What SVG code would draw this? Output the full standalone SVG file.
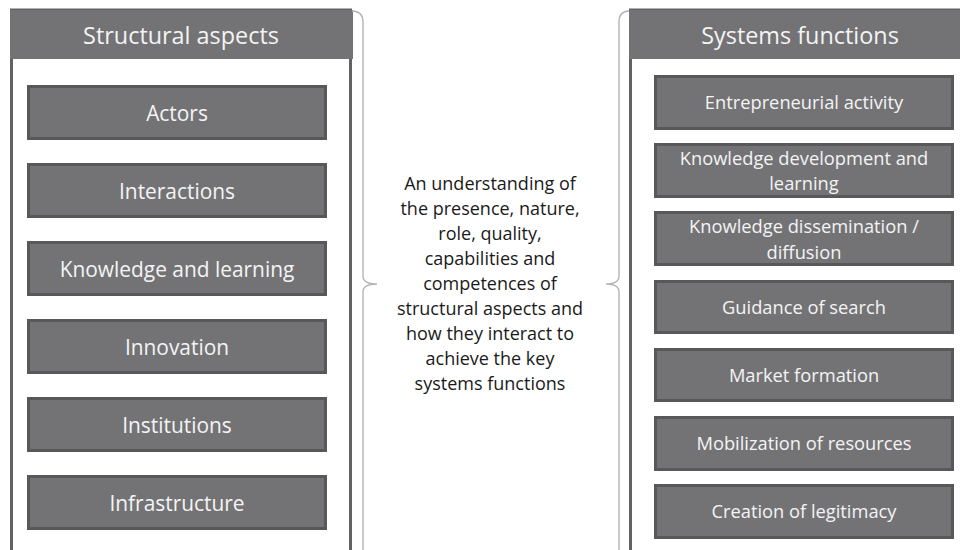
<svg xmlns="http://www.w3.org/2000/svg" width="960" height="550" viewBox="0 0 960 550">
  <style>
    .frame { fill: #ffffff; stroke: #626265; stroke-width: 3; }
    .head { fill: #737376; }
    .box { fill: #737376; stroke: #58585b; stroke-width: 3; }
    .htxt { font-family: "Open Sans", "Noto Sans", sans-serif; font-size: 23.4px; fill: #f4f4f4; text-anchor: middle; }
    .ltxt { font-family: "Open Sans", "Noto Sans", sans-serif; font-size: 20.9px; fill: #f4f4f4; text-anchor: middle; }
    .rtxt { font-family: "Open Sans", "Noto Sans", sans-serif; font-size: 18.3px; fill: #f4f4f4; text-anchor: middle; }
    .mtxt { font-family: "Open Sans", "Noto Sans", sans-serif; font-size: 18px; fill: #1a1a1a; text-anchor: middle; }
    .brace { fill: none; stroke: #b4b4b4; stroke-width: 1.4; }
  </style>

  <rect width="960" height="550" fill="#ffffff"/>

  <!-- left panel -->
  <g id="structural-aspects">
    <rect class="frame" x="11.5" y="10" width="339" height="560"/>
    <rect class="head" x="10" y="10" width="343" height="49"/>
    <text class="htxt" x="181" y="43.5">Structural aspects</text>
  </g>
  <g id="actors"><rect class="box" x="28.5" y="86.5" width="297" height="52"/><text class="ltxt" x="177" y="120.5">Actors</text></g>
  <g id="interactions"><rect class="box" x="28.5" y="164.5" width="297" height="52"/><text class="ltxt" x="177" y="198.5">Interactions</text></g>
  <g id="knowledge-learning"><rect class="box" x="28.5" y="242.5" width="297" height="52"/><text class="ltxt" x="177" y="276.5">Knowledge and learning</text></g>
  <g id="innovation"><rect class="box" x="28.5" y="320.5" width="297" height="52"/><text class="ltxt" x="177" y="354.5">Innovation</text></g>
  <g id="institutions"><rect class="box" x="28.5" y="398.5" width="297" height="52"/><text class="ltxt" x="177" y="432.5">Institutions</text></g>
  <g id="infrastructure"><rect class="box" x="28.5" y="476.5" width="297" height="52"/><text class="ltxt" x="177" y="510.5">Infrastructure</text></g>

  <!-- right panel -->
  <g id="systems-functions">
    <rect class="frame" x="630.5" y="10" width="400" height="560"/>
    <rect class="head" x="629" y="10" width="340" height="49"/>
    <text class="htxt" x="800" y="43.5">Systems functions</text>
  </g>
  <g id="entrepreneurial"><rect class="box" x="655.5" y="76.5" width="297" height="52"/><text class="rtxt" x="804" y="108.5">Entrepreneurial activity</text></g>
  <g id="knowledge-development"><rect class="box" x="655.5" y="144.5" width="297" height="52"/><text class="rtxt" x="804" y="164.5">Knowledge development and</text><text class="rtxt" x="804" y="190">learning</text></g>
  <g id="knowledge-dissemination"><rect class="box" x="655.5" y="212.5" width="297" height="52"/><text class="rtxt" x="804" y="233">Knowledge dissemination /</text><text class="rtxt" x="804" y="258.5">diffusion</text></g>
  <g id="guidance"><rect class="box" x="655.5" y="281.5" width="297" height="51"/><text class="rtxt" x="804" y="313.5">Guidance of search</text></g>
  <g id="market"><rect class="box" x="655.5" y="349.5" width="297" height="51"/><text class="rtxt" x="804" y="381.5">Market formation</text></g>
  <g id="mobilization"><rect class="box" x="655.5" y="417.5" width="297" height="52"/><text class="rtxt" x="804" y="449.5">Mobilization of resources</text></g>
  <g id="legitimacy"><rect class="box" x="655.5" y="485.5" width="297" height="52"/><text class="rtxt" x="804" y="517.5">Creation of legitimacy</text></g>

  <!-- braces joining both panels to the centre text -->
  <g id="connectors">
    <path class="brace" d="M352,11 Q363,11 363,22 V276 Q363,284 377,284 Q363,284 363,292 V560"/>
    <path class="brace" d="M629,11 Q619,11 619,22 V276 Q619,284 606,284 Q619,284 619,292 V560"/>
  </g>

  <!-- centre text -->
  <g id="summary">
    <text class="mtxt" x="490" y="189.5">An understanding of</text>
    <text class="mtxt" x="490" y="214.5">the presence, nature,</text>
    <text class="mtxt" x="490" y="239.5">role, quality,</text>
    <text class="mtxt" x="490" y="264.5">capabilities and</text>
    <text class="mtxt" x="490" y="289.5">competences of</text>
    <text class="mtxt" x="490" y="314.5">structural aspects and</text>
    <text class="mtxt" x="490" y="339.5">how they interact to</text>
    <text class="mtxt" x="490" y="364.5">achieve the key</text>
    <text class="mtxt" x="490" y="389.5">systems functions</text>
  </g>
</svg>
